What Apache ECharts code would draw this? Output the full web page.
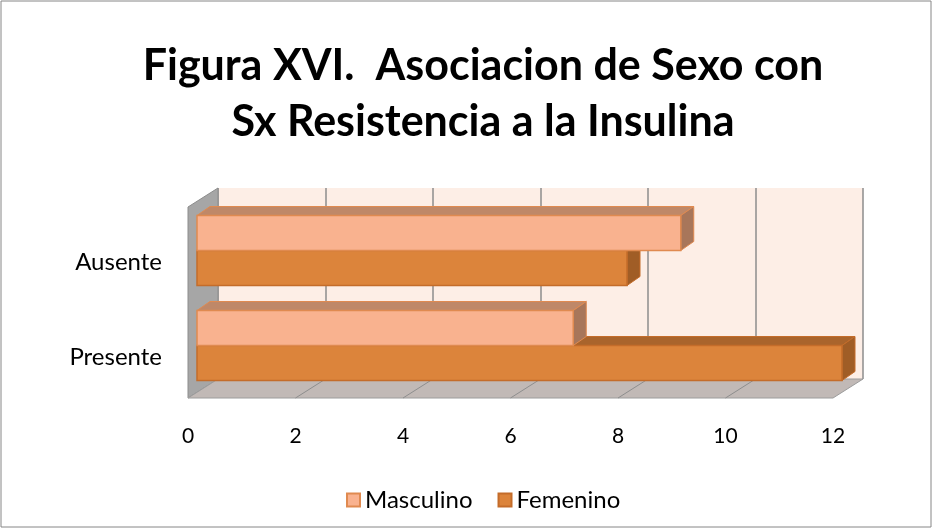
<!DOCTYPE html>
<html>
<head>
<meta charset="utf-8">
<script src="https://cdn.jsdelivr.net/npm/echarts@6/dist/echarts.min.js"></script>
<style>
    html, body { margin: 0; padding: 0; background: #ffffff; }
    #chart { width: 933px; height: 529px; }
</style>
</head>
<body>
<div id="chart"></div>
<script>
    // datos
    var categories = [ 'Presente', 'Ausente' ];
    var masculino = [ 7, 9 ];
    var femenino = [ 12, 8 ];
    var xTicks = [ 0, 2, 4, 6, 8, 10, 12 ];
    var seriesNames = [ 'Masculino', 'Femenino' ];

    // layout del "3D" de Excel
    var FRONT_L = 188, FRONT_B = 398, AXIS_W = 645, WALL_H = 191;
    var DX = 30, DY = -19;
    var BAR_H = 35, BAR_DX = 13, BAR_DY = -9;
    var FONT = 'Lato, "Open Sans", sans-serif';

    var colors = [
        { front: '#F9B28F', top: '#BF8868', side: '#A8765A', border: '#E08A50' },
        { front: '#DC843B', top: '#A9642C', side: '#A05D26', border: '#C46C2A' }
    ];

    function makeRender( idx ) {
        var c = colors[ idx ];
        return function( params, api ) {
            var val = api.value( 0 );
            var cat = api.value( 1 );
            var p0 = api.coord( [ 0, cat ] );
            var p1 = api.coord( [ val, cat ] );
            var y0 = idx === 0 ? p0[ 1 ] - BAR_H : p0[ 1 ];
            var y1 = y0 + BAR_H;
            var x0 = p0[ 0 ], x1 = p1[ 0 ];
            return {
                type: 'group',
                children: [
                    {
                        type: 'polygon',
                        shape: { points: [ [ x0, y0 ], [ x1, y0 ], [ x1 + BAR_DX, y0 + BAR_DY ], [ x0 + BAR_DX, y0 + BAR_DY ] ] },
                        style: { fill: c.top, stroke: c.border, lineWidth: 1 }
                    },
                    {
                        type: 'polygon',
                        shape: { points: [ [ x1, y0 ], [ x1 + BAR_DX, y0 + BAR_DY ], [ x1 + BAR_DX, y1 + BAR_DY ], [ x1, y1 ] ] },
                        style: { fill: c.side, stroke: c.border, lineWidth: 1 }
                    },
                    {
                        type: 'rect',
                        shape: { x: x0, y: y0, width: x1 - x0, height: BAR_H },
                        style: { fill: c.front, stroke: c.border, lineWidth: 1.5 }
                    }
                ]
            };
        };
    }

    // paredes: lateral y piso
    var walls = [];
    walls.push( {
        type: 'polygon',
        shape: { points: [ [ FRONT_L, FRONT_B - WALL_H ], [ FRONT_L + DX, FRONT_B - WALL_H + DY ], [ FRONT_L + DX, FRONT_B + DY ], [ FRONT_L, FRONT_B ] ] },
        style: { fill: '#A6A6A6', stroke: '#8C8C8C', lineWidth: 1 },
        z: 1
    } );
    walls.push( {
        type: 'polygon',
        shape: { points: [ [ FRONT_L, FRONT_B ], [ FRONT_L + AXIS_W, FRONT_B ], [ FRONT_L + AXIS_W + DX, FRONT_B + DY ], [ FRONT_L + DX, FRONT_B + DY ] ] },
        style: { fill: '#C1B9B6', stroke: '#9C9C9C', lineWidth: 1 },
        z: 1
    } );
    xTicks.forEach( function( t ) {
        var x = FRONT_L + AXIS_W * t / 12;
        if ( t === 0 || t === 12 ) return;
        walls.push( {
            type: 'line',
            shape: { x1: x, y1: FRONT_B, x2: x + DX, y2: FRONT_B + DY },
            style: { stroke: '#8E8E8E', lineWidth: 1 },
            z: 1
        } );
    } );
    walls.push( {
        type: 'rect',
        shape: { x: 1, y: 1, width: 930, height: 526 },
        style: { fill: 'none', stroke: '#868686', lineWidth: 1 },
        z: 0
    } );

    var chart = echarts.init( document.getElementById( 'chart' ) );
    chart.setOption( {
        backgroundColor: '#ffffff',
        animation: false,
        title: {
            text: 'Figura XVI.  Asociacion de Sexo con\nSx Resistencia a la Insulina',
            left: 478,
            top: 33,
            textAlign: 'center',
            textStyle: { fontFamily: FONT, fontSize: 43, fontWeight: 'bold', color: '#000000', lineHeight: 56 }
        },
        legend: {
            data: seriesNames,
            left: 341,
            top: 483,
            itemWidth: 13,
            itemHeight: 13,
            itemGap: 25,
            icon: 'rect',
            textStyle: { fontFamily: FONT, fontSize: 24, color: '#000000' }
        },
        graphic: walls,
        grid: [
            // pared de fondo
            { left: FRONT_L + DX, top: FRONT_B - WALL_H + DY, width: AXIS_W, height: WALL_H, show: true, backgroundColor: '#FDEEE6', borderWidth: 0 },
            // barras
            { left: 197, top: 203, width: AXIS_W, height: 190 },
            // etiquetas del plano frontal
            { left: FRONT_L, top: 215, width: AXIS_W, height: 190 }
        ],
        xAxis: [
            { gridIndex: 0, type: 'value', min: 0, max: 12, interval: 2, axisLabel: { show: false }, axisLine: { show: false }, axisTick: { show: false },
              splitLine: { show: true, lineStyle: { color: '#8C8C8C', width: 1.5 } } },
            { gridIndex: 1, type: 'value', min: 0, max: 12, interval: 2, show: false },
            { gridIndex: 2, type: 'value', min: 0, max: 12, interval: 2, axisLine: { show: false }, axisTick: { show: false }, splitLine: { show: false },
              axisLabel: { margin: 21, fontFamily: FONT, fontSize: 21, color: '#000000' } }
        ],
        yAxis: [
            { gridIndex: 0, type: 'category', data: categories, show: false },
            { gridIndex: 1, type: 'category', data: categories, show: false },
            { gridIndex: 2, type: 'category', data: categories, axisLine: { show: false }, axisTick: { show: false },
              axisLabel: { margin: 26, fontFamily: FONT, fontSize: 24, color: '#000000' } }
        ],
        series: [
            {
                name: 'Masculino',
                type: 'custom',
                xAxisIndex: 1,
                yAxisIndex: 1,
                z: 4,
                itemStyle: { color: colors[ 0 ].front, borderColor: colors[ 0 ].border, borderWidth: 2 },
                renderItem: makeRender( 0 ),
                encode: { x: 0, y: 1 },
                data: masculino.map( function( v, i ) { return [ v, i ]; } )
            },
            {
                name: 'Femenino',
                type: 'custom',
                xAxisIndex: 1,
                yAxisIndex: 1,
                z: 3,
                itemStyle: { color: colors[ 1 ].front, borderColor: colors[ 1 ].border, borderWidth: 2 },
                renderItem: makeRender( 1 ),
                encode: { x: 0, y: 1 },
                data: femenino.map( function( v, i ) { return [ v, i ]; } )
            }
        ]
    } );
</script>
</body>
</html>
